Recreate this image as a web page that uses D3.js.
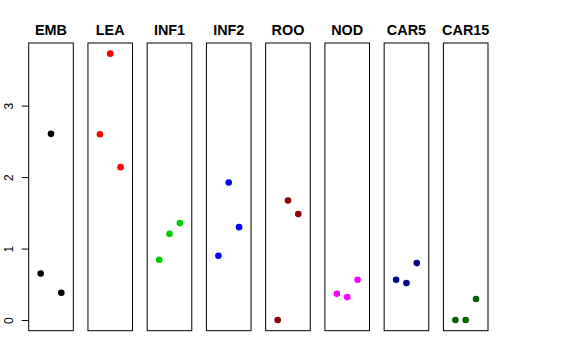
<!DOCTYPE html>
<html>
  <head>
    <meta charset="utf-8">
    <title>Strip panels</title>
    <script src="https://d3js.org/d3.v7.min.js"></script>
    <style>
    body { margin: 0; background: #fff; }
    .title { font-family: "Liberation Sans", Arial, sans-serif; font-weight: bold; font-size: 14.4px; }
    .y-axis text { font-family: "Liberation Sans", Arial, sans-serif; font-size: 12px; }
    .panel { fill: none; stroke: #000; stroke-width: 1px; }
    </style>
  </head>
  <body>
    <script>
      // panel names and point colours
      const categories = ["EMB", "LEA", "INF1", "INF2", "ROO", "NOD", "CAR5", "CAR15"];
      const colors = ["#000000", "#ff0000", "#00cd00", "#0000ff", "#8b0000", "#ff00ff", "#00008b", "#006400"];

      // three replicates per panel, drawn at x = 1, 2, 3
      const reps = [1, 2, 3];
      const emb   = [0.651, 2.605, 0.382];
      const lea   = [2.600, 3.727, 2.139];
      const inf1  = [0.843, 1.206, 1.356];
      const inf2  = [0.899, 1.924, 1.300];
      const roo   = [0.000, 1.672, 1.482];
      const nod   = [0.368, 0.321, 0.563];
      const car5  = [0.563, 0.517, 0.797];
      const car15 = [0.000, 0.000, 0.294];
      const yTicks = [0, 1, 2, 3];

      const series = [emb, lea, inf1, inf2, roo, nod, car5, car15];

      const width = 576;
      const height = 360;

      const svg = d3.select("body")
        .append("svg")
          .attr("width", width)
          .attr("height", height);

      // one band per panel
      const panelScale = d3.scaleBand()
          .domain(categories)
          .range([28.7, 488])
          .paddingInner(0.247)
          .paddingOuter(0);

      const bw = panelScale.bandwidth();

      // R style: 4% padding on each side of the data range
      const yMax = d3.max(series, s => d3.max(s));
      const yPad = yMax * 0.04;
      const yScale = d3.scaleLinear()
          .domain([-yPad, yMax + yPad])
          .range([330.7, 43.0]);

      const xScale = d3.scaleLinear()
          .domain([-0.16, 4.16])
          .range([0, bw]);

      const panels = svg.selectAll("g.panel-g")
        .data(categories)
        .enter()
        .append("g")
          .classed("panel-g", true)
          .attr("transform", d => "translate(" + panelScale(d) + ",0)");

      panels.each(function(cat, i) {
        const g = d3.select(this);

        g.selectAll("circle")
          .data(series[i])
          .enter()
          .append("circle")
            .attr("cx", (d, j) => xScale(reps[j]))
            .attr("cy", d => yScale(d))
            .attr("r", 3.3)
            .attr("fill", colors[i]);

        g.append("rect")
            .classed("panel", true)
            .attr("x", 0)
            .attr("y", yScale.range()[1])
            .attr("width", bw)
            .attr("height", yScale.range()[0] - yScale.range()[1]);

        g.append("text")
            .classed("title", true)
            .attr("x", bw / 2)
            .attr("y", 34.7)
            .attr("text-anchor", "middle")
            .text(cat);
      });

      // y axis on the first panel only
      const yAxis = d3.axisLeft(yScale)
          .tickValues(yTicks)
          .tickSize(7)
          .tickFormat(d3.format("d"));

      const axisG = svg.append("g")
          .classed("y-axis", true)
          .attr("transform", "translate(" + panelScale(categories[0]) + ",0)")
          .call(yAxis);

      axisG.select(".domain").remove();
      axisG.selectAll(".tick line").attr("stroke", "#000");
      axisG.selectAll(".tick text")
          .attr("x", null)
          .attr("dy", null)
          .attr("fill", "#000")
          .attr("text-anchor", "middle")
          .attr("transform", "translate(-16,0) rotate(-90)");
    </script>
  </body>
</html>
